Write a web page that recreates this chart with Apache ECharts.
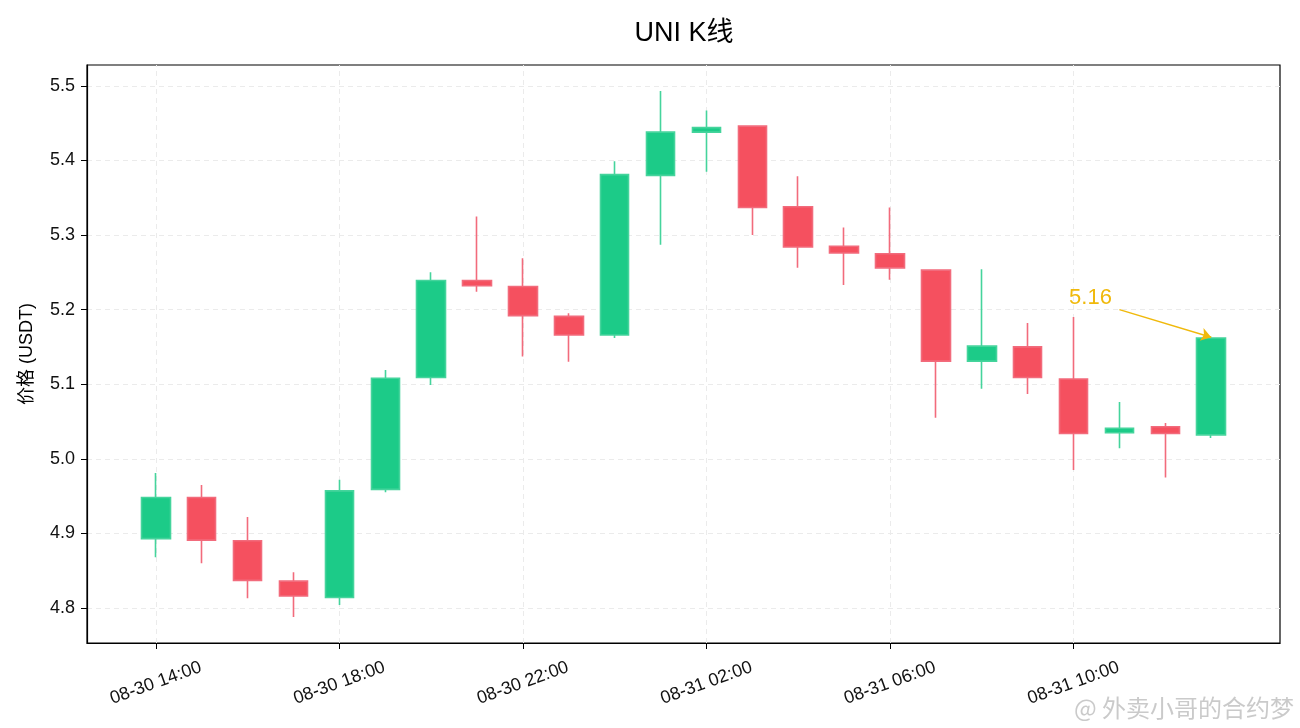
<!DOCTYPE html>
<html><head><meta charset="utf-8">
<script src="https://cdn.jsdelivr.net/npm/echarts@6/dist/echarts.min.js"></script>
<style>html,body{margin:0;padding:0;background:#fff}#c{width:1300px;height:728px}</style>
</head><body><div id="c"></div>
<script>
const times = ['08-30 14:00','08-30 15:00','08-30 16:00','08-30 17:00','08-30 18:00','08-30 19:00','08-30 20:00','08-30 21:00','08-30 22:00','08-30 23:00','08-31 00:00','08-31 01:00','08-31 02:00','08-31 03:00','08-31 04:00','08-31 05:00','08-31 06:00','08-31 07:00','08-31 08:00','08-31 09:00','08-31 10:00','08-31 11:00','08-31 12:00','08-31 13:00'];
const opens  = [4.893,4.948,4.890,4.836,4.814,4.959,5.109,5.239,5.231,5.191,5.166,5.380,5.438,5.446,5.338,5.285,5.275,5.253,5.131,5.150,5.107,5.035,5.043,5.032];
const closes = [4.948,4.891,4.837,4.816,4.957,5.108,5.239,5.232,5.192,5.166,5.381,5.438,5.444,5.337,5.284,5.276,5.256,5.131,5.151,5.109,5.034,5.041,5.034,5.162];
const lows   = [4.868,4.860,4.813,4.788,4.804,4.955,5.099,5.224,5.137,5.130,5.162,5.287,5.385,5.300,5.256,5.233,5.240,5.055,5.094,5.087,4.985,5.014,4.975,5.028];
const highs  = [4.981,4.965,4.922,4.848,4.972,5.119,5.250,5.325,5.269,5.195,5.399,5.493,5.467,5.447,5.379,5.310,5.337,5.254,5.254,5.182,5.190,5.076,5.048,5.164];
const yTicks = [4.8,4.9,5.0,5.1,5.2,5.3,5.4,5.5];
const xTickLabels = ['08-30 14:00','08-30 18:00','08-30 22:00','08-31 02:00','08-31 06:00','08-31 10:00'];
const lastLabel = '5.16';

// padded category axis (one empty slot each side)
const cats = [''].concat(times, ['']);
const kData = ['-'].concat(times.map((t,i)=>[opens[i],closes[i],lows[i],highs[i]]), ['-']);
const lastIdx = times.length; // padded index of last candle
const lastClose = closes[closes.length-1];
const isLab = (i)=> xTickLabels.indexOf(cats[i]) >= 0;
const FONT = '"Liberation Sans","Noto Sans CJK SC",sans-serif';

const chart = echarts.init(document.getElementById('c'));
chart.setOption({
  animation:false,
  backgroundColor:'#fff',
  title:{text:'UNI K线',left:679,textAlign:'center',top:15,textStyle:{fontSize:27,fontWeight:'normal',color:'#000',fontFamily:FONT}},
  grid:{left:87,right:20,top:65,bottom:85,show:true,borderColor:'#000',borderWidth:1.2},
  xAxis:{type:'category',data:cats,boundaryGap:true,
    axisLine:{show:true,lineStyle:{color:'#000',width:1.2}},
    axisTick:{show:true,alignWithLabel:true,interval:(i)=>isLab(i),length:6,lineStyle:{color:'#000'}},
    axisLabel:{interval:(i)=>isLab(i),rotate:20,align:'center',verticalAlign:'middle',margin:40,fontSize:18,color:'#111',fontFamily:FONT},
    splitLine:{show:false}
  },
  yAxis:{type:'value',min:4.753,max:5.528,scale:true,
    name:'价格 (USDT)',nameLocation:'middle',nameGap:51,nameRotate:90,
    nameTextStyle:{fontSize:18,color:'#000',fontFamily:FONT},
    axisLine:{show:true,lineStyle:{color:'#000',width:1.2}},
    axisTick:{show:true,length:6,lineStyle:{color:'#000'},customValues:yTicks},
    axisLabel:{fontSize:18,color:'#111',fontFamily:FONT,customValues:yTicks,formatter:(v)=>v.toFixed(1),margin:12},
    splitLine:{show:true,lineStyle:{color:'#ebebeb',type:[5,4],width:1}},
    interval:0.1
  },
  series:[{
    type:'line',data:kData.map(()=> '-'),z:0,silent:true,
    markLine:{silent:true,z:0,symbol:['none','none'],label:{show:false},
      lineStyle:{color:'#ebebeb',type:[5,4],width:1},
      data:xTickLabels.map(l=>({xAxis:l}))}
  },{
    type:'candlestick',data:kData,barWidth:29,z:3,
    itemStyle:{color:'#1ccb88',color0:'#f5505f',borderColor:'#45d49c',borderColor0:'#f26b7c',borderWidth:1.6},
    markPoint:{symbol:'circle',symbolSize:0,silent:true,
      data:[{coord:[lastIdx-3,lastClose+0.054],value:lastLabel,
        label:{show:true,formatter:lastLabel,color:'#f0b90b',fontSize:22,fontFamily:FONT,position:'inside',offset:[17,0]}}]},
    markLine:{silent:true,symbol:['none','arrow'],symbolSize:[10,10],
      lineStyle:{color:'#f0b90b',width:1.5,type:'solid'},label:{show:false},
      data:[[{coord:[lastIdx-2,lastClose+0.038]},{coord:[lastIdx,lastClose+0.001]}]]}
  }],
  graphic:[{type:'text',right:6,bottom:8,style:{text:'@ 外卖小哥的合约梦',fontSize:24,fill:'rgba(150,150,150,0.5)',fontFamily:'"Noto Sans CJK SC",sans-serif'}}]
});
</script></body></html>
